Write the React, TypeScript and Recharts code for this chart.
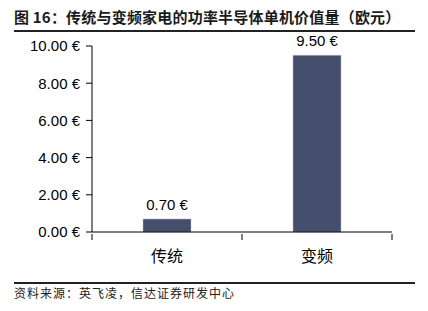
import { BarChart, Bar, XAxis, YAxis, LabelList } from "recharts";

const categories = ["传统", "变频"];
const values = [0.7, 9.5];
const yTicks = [0, 2, 4, 6, 8, 10];

const W = 428;
const H = 311;
const PLOT_LEFT = 92;
const PLOT_RIGHT = 392;
const band = (PLOT_RIGHT - PLOT_LEFT) / categories.length;

const data = categories.map((name, i) => ({ name, value: values[i] }));

const euro = (v: number) => `${v.toFixed(2)} €`;

function CategoryTick(props: any) {
  const { x, y, payload, index } = props;
  return (
    <g>
      {index === 0 && (
        <line x1={x - band / 2} x2={x - band / 2} y1={y - 6} y2={y} stroke="#000" />
      )}
      <line x1={x + band / 2} x2={x + band / 2} y1={y - 6} y2={y} stroke="#000" />
      <text
        x={x}
        y={y + 22}
        textAnchor="middle"
        fontSize={16}
        fill="#000"
        fontFamily="'Noto Sans CJK SC', sans-serif"
      >
        {payload.value}
      </text>
    </g>
  );
}

export default function App() {
  return (
    <div
      style={{
        position: "absolute",
        left: 0,
        top: 0,
        width: W,
        height: H,
        background: "#fff",
        fontFamily: "'Liberation Sans', Arial, sans-serif",
      }}
    >
      <div
        style={{
          position: "absolute",
          left: 14,
          top: 7,
          fontSize: 15,
          fontWeight: 700,
          color: "#1a1a1a",
          fontFamily: "'Noto Sans CJK SC', sans-serif",
          lineHeight: "20px",
          letterSpacing: 0.2,
          whiteSpace: "nowrap",
        }}
      >
        图 16：传统与变频家电的功率半导体单机价值量（欧元）
      </div>
      <div
        style={{
          position: "absolute",
          left: 14,
          top: 30,
          width: 401,
          height: 2,
          background: "#222",
        }}
      />

      <div style={{ position: "absolute", left: 0, top: 0 }}>
        <BarChart
          width={W}
          height={H}
          data={data}
          margin={{ top: 46, right: W - PLOT_RIGHT, bottom: 49, left: 0 }}
          barCategoryGap="34%"
        >
          <XAxis
            dataKey="name"
            height={30}
            axisLine={{ stroke: "#000" }}
            tickLine={false}
            tick={<CategoryTick />}
            interval={0}
          />
          <YAxis
            width={PLOT_LEFT}
            domain={[0, 10]}
            ticks={yTicks}
            tickFormatter={euro}
            axisLine={{ stroke: "#000" }}
            tickLine={{ stroke: "#000" }}
            tickSize={6}
            tickMargin={6}
            tick={{ fontSize: 15, fill: "#000" }}
            interval={0}
          />
          <Bar
            dataKey="value"
            fill="#464E6E"
            stroke="#B8BDCC"
            strokeWidth={0.5}
            isAnimationActive={false}
          >
            <LabelList
              dataKey="value"
              position="top"
              offset={9}
              formatter={(v: number) => euro(v)}
              style={{ fontSize: 15, fill: "#000" }}
            />
          </Bar>
        </BarChart>
      </div>

      <div
        style={{
          position: "absolute",
          left: 14,
          top: 282,
          width: 401,
          height: 1.5,
          background: "#222",
        }}
      />
      <div
        style={{
          position: "absolute",
          left: 14,
          top: 285,
          fontSize: 12,
          color: "#222",
          fontFamily: "'Noto Sans CJK SC', sans-serif",
          lineHeight: "16px",
          letterSpacing: 1,
          whiteSpace: "nowrap",
        }}
      >
        资料来源：英飞凌，信达证券研发中心
      </div>
    </div>
  );
}
